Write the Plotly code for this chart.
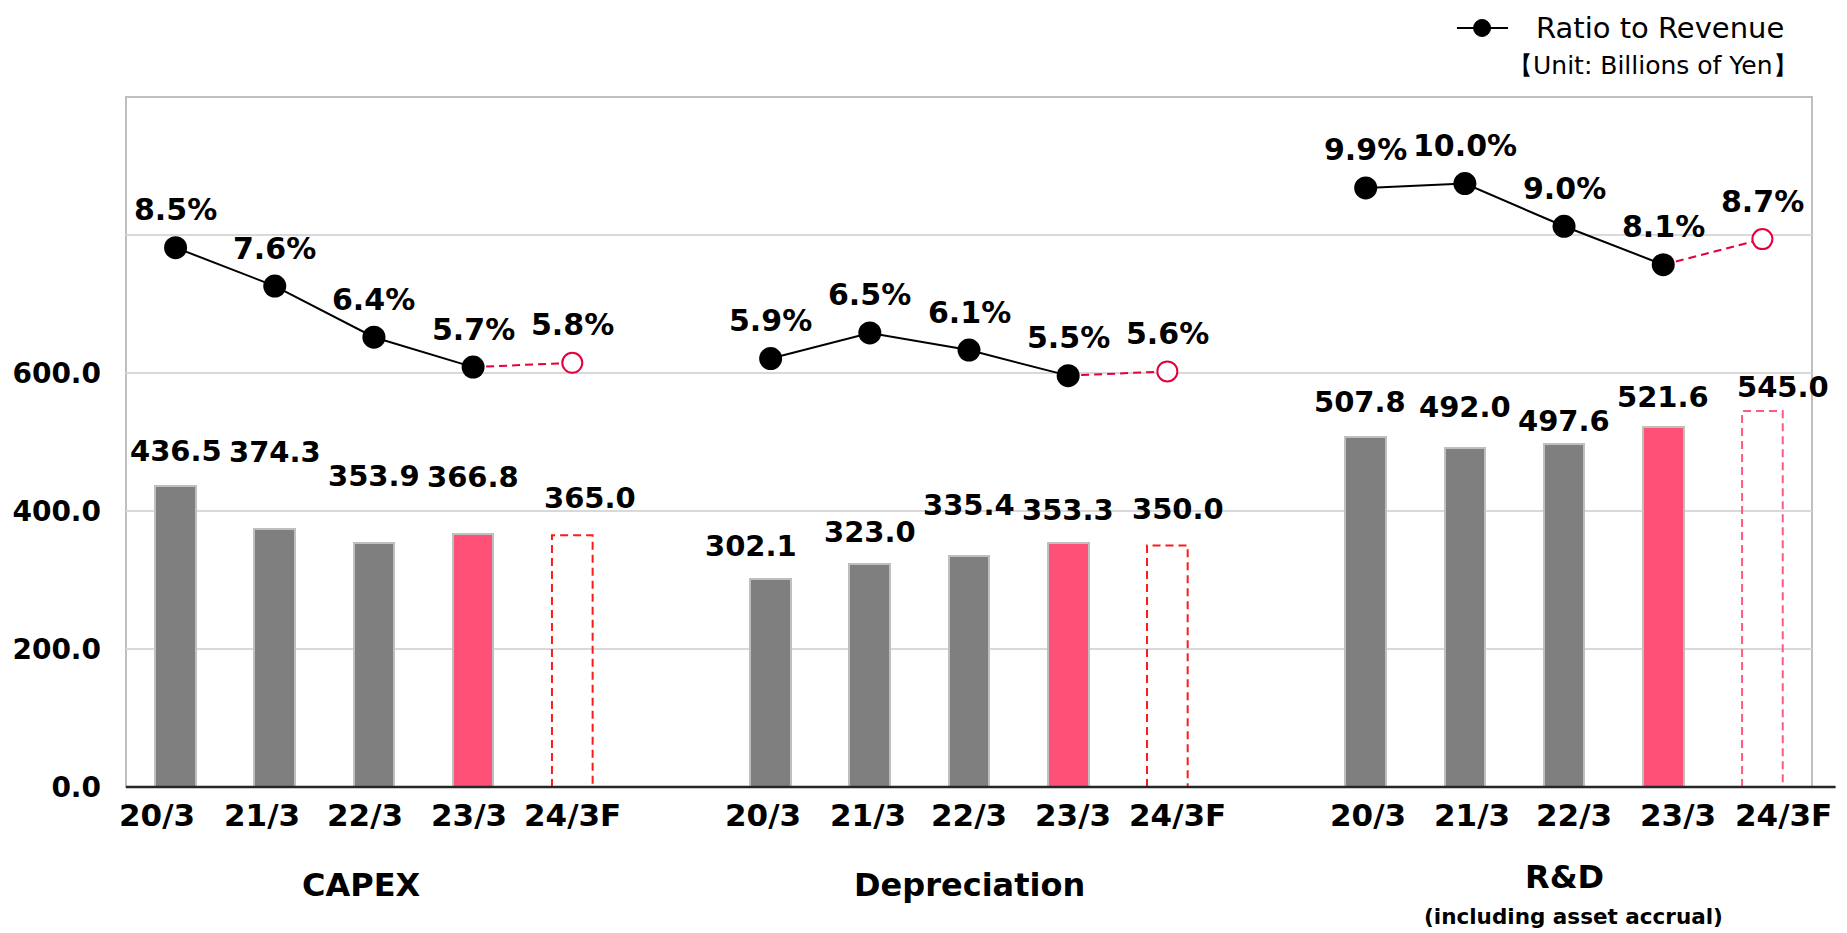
import plotly.graph_objects as go

# values in billions of yen, ratios in % of revenue
periods = ["20/3", "21/3", "22/3", "23/3", "24/3F"]
groups = ["CAPEX", "Depreciation", "R&D"]

capex = [436.5, 374.3, 353.9, 366.8, 365.0]
depreciation = [302.1, 323.0, 335.4, 353.3, 350.0]
rnd = [507.8, 492.0, 497.6, 521.6, 545.0]

capex_ratio = [8.5, 7.6, 6.4, 5.7, 5.8]
depreciation_ratio = [5.9, 6.5, 6.1, 5.5, 5.6]
rnd_ratio = [9.9, 10.0, 9.0, 8.1, 8.7]

amounts = [capex, depreciation, rnd]
ratios = [capex_ratio, depreciation_ratio, rnd_ratio]

# label nudges (px) copied from the slide, where labels were placed by hand
bar_label_dy = [[35, 77, 67, 57, 37], [33, 32, 51, 33, 37], [35, 41, 23, 30, 24]]
bar_label_dx = [[0, 0, 0, 0, 18], [-20, 0, 0, 0, 11], [-6, 0, 0, 0, 21]]
period_label_dx = [[-19, -13, -9, -4, 0], [-8, -2, 0, 5, 10], [2, 7, 10, 15, 21]]

SLOT = 6          # five periods + one empty slot between groups
BAR_W = 0.41
FONT = "DejaVu Sans"
GRAY = "#7f7f7f"
PINK = "#ff5078"
CRIMSON = "#e4003b"
outline_colors = ["#ff1a1a", "#ff1a1a", "#ff5a82"]

fig = go.Figure()
annotations = []

for g, vals in enumerate(amounts):
    xs = [g * SLOT + i for i in range(len(periods))]
    fig.add_bar(
        x=xs[:-1], y=vals[:-1], width=BAR_W,
        marker=dict(color=[GRAY, GRAY, GRAY, PINK], line=dict(color="#bfbfbf", width=2)),
        showlegend=False, hoverinfo="skip",
    )
    # forecast bar: dashed outline only
    fx, fv = xs[-1], vals[-1]
    fig.add_scatter(
        x=[fx - BAR_W / 2, fx - BAR_W / 2, fx + BAR_W / 2, fx + BAR_W / 2, fx - BAR_W / 2],
        y=[0, fv, fv, 0, 0], mode="lines",
        line=dict(color=outline_colors[g], width=2, dash="8px,5px"),
        showlegend=False, hoverinfo="skip",
    )
    for i, v in enumerate(vals):
        annotations.append(dict(
            x=xs[i], y=v, xref="x", yref="y", text=f"{v:.1f}", showarrow=False,
            yanchor="middle", yshift=bar_label_dy[g][i], xshift=bar_label_dx[g][i],
            font=dict(size=29, weight="bold", color="black", family=FONT),
        ))
    for i, r in enumerate(ratios[g]):
        annotations.append(dict(
            x=xs[i], y=r, xref="x", yref="y2", text=f"{r:.1f}%", showarrow=False,
            yanchor="middle", yshift=38,
            font=dict(size=30, weight="bold", color="black", family=FONT),
        ))
    # period labels sit in text boxes on the slide, slightly wider spaced than bars
    for i, p in enumerate(periods):
        annotations.append(dict(
            x=xs[i], y=-0.0406, xref="x", yref="paper", text=p, showarrow=False,
            yanchor="middle", xshift=period_label_dx[g][i],
            font=dict(size=31, weight="bold", color="black", family=FONT),
        ))

# ratio line: actuals solid black, forecast dashed crimson
line_x, line_y, fc_x, fc_y, fc_px, fc_py = [], [], [], [], [], []
for g, r in enumerate(ratios):
    xs = [g * SLOT + i for i in range(len(periods))]
    line_x += xs[:-1] + [None]
    line_y += r[:-1] + [None]
    fc_x += [xs[-2], xs[-1], None]
    fc_y += [r[-2], r[-1], None]
    fc_px.append(xs[-1])
    fc_py.append(r[-1])

fig.add_scatter(
    x=fc_x, y=fc_y, yaxis="y2", mode="lines",
    line=dict(color=CRIMSON, width=2, dash="8px,5px"),
    showlegend=False, hoverinfo="skip",
)
fig.add_scatter(
    x=line_x, y=line_y, yaxis="y2", mode="lines+markers", name="Ratio to Revenue",
    line=dict(color="black", width=2),
    marker=dict(color="black", size=23),
    showlegend=False, hoverinfo="skip",
)
fig.add_scatter(
    x=fc_px, y=fc_py, yaxis="y2", mode="markers",
    marker=dict(color="white", size=20, line=dict(color=CRIMSON, width=2)),
    showlegend=False, hoverinfo="skip",
)

# group captions
for g, name in enumerate(groups):
    annotations.append(dict(
        x=g * SLOT + 2, y=-0.142 if name != "R&D" else -0.131, xref="x", yref="paper",
        text=name, showarrow=False, yanchor="middle", xshift=-12 if g == 0 else 0,
        font=dict(size=32, weight="bold", color="black", family=FONT),
    ))
annotations.append(dict(
    x=2 * SLOT + 2, y=-0.1884, xref="x", yref="paper", text="(including asset accrual)",
    showarrow=False, yanchor="middle", xshift=9,
    font=dict(size=21.5, weight="bold", color="black", family=FONT),
))
annotations.append(dict(
    x=0.993, y=1.046, xref="paper", yref="paper", text="【Unit: Billions of Yen】",
    showarrow=False, xanchor="right", yanchor="middle",
    font=dict(size=25, color="black", family=FONT),
))

# legend key drawn by hand, sitting tight against the top edge like the slide
LEG_Y = 1.1
annotations.append(dict(
    x=0.8351, y=LEG_Y, xref="paper", yref="paper", text="Ratio to Revenue",
    showarrow=False, xanchor="left", yanchor="middle",
    font=dict(size=29, color="black", family=FONT),
))
legend_key = [
    dict(type="line", xref="paper", yref="paper", x0=0.7894, x1=0.8197, y0=LEG_Y, y1=LEG_Y,
         line=dict(color="black", width=2)),
    dict(type="circle", xref="paper", yref="paper", xsizemode="pixel", ysizemode="pixel",
         xanchor=0.8043, yanchor=LEG_Y, x0=-8.5, x1=8.5, y0=-8.5, y1=8.5,
         fillcolor="black", line=dict(color="black", width=1)),
]

# page body has an 8px margin, so the figure is 8px smaller than the window
fig.update_layout(
    width=1839, height=925,
    margin=dict(l=118, r=35, t=89, b=146, autoexpand=False),
    plot_bgcolor="white", paper_bgcolor="white",
    font=dict(family=FONT, color="black"),
    bargap=0,
    hovermode=False,
    showlegend=False,
    xaxis=dict(
        range=[-0.5, 16.5], showticklabels=False, showgrid=False, zeroline=False,
        showline=False, ticks="",
    ),
    yaxis=dict(
        range=[0, 1000], tickvals=[0, 200, 400, 600, 800],
        ticktext=["0.0", "200.0", "400.0", "600.0", ""],
        tickfont=dict(size=28, weight="bold"), gridcolor="#d9d9d9", gridwidth=2,
        zeroline=False, showline=False, ticklabelstandoff=24,
    ),
    yaxis2=dict(range=[-4.14, 12.03], overlaying="y", visible=False),
    annotations=annotations,
    shapes=[
        dict(type="rect", xref="paper", yref="paper", x0=0, x1=1, y0=0, y1=1,
             line=dict(color="#bfbfbf", width=2), layer="below"),
        dict(type="line", xref="paper", yref="paper", x0=0, x1=1.014, y0=0, y1=0,
             line=dict(color="#262626", width=2.5), layer="above"),
    ] + legend_key,
)

fig.write_html("out.html")
